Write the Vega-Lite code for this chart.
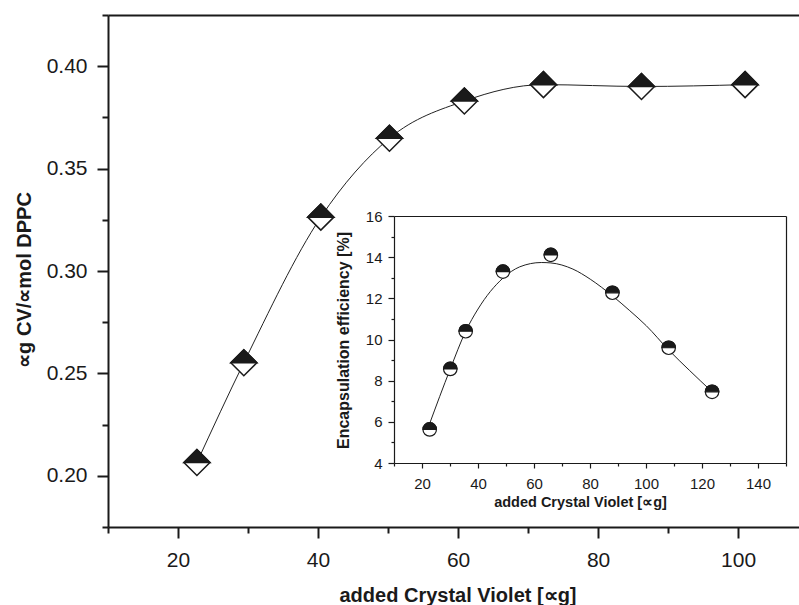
{
  "$schema": "https://vega.github.io/schema/vega-lite/v6.json",
  "width": 691,
  "height": 512,
  "autosize": "none",
  "padding": {"left": 108, "top": 15, "right": 0, "bottom": 78},
  "background": "white",
  "config": {
    "view": {"stroke": null},
    "axis": {
      "grid": false,
      "domainColor": "#1a1a1a",
      "tickColor": "#1a1a1a",
      "labelColor": "#1a1a1a",
      "titleColor": "#1a1a1a",
      "labelFont": "Liberation Sans",
      "titleFont": "Liberation Sans",
      "labelOverlap": false,
      "labelFlush": false
    }
  },
  "datasets": {
    "main": [
      {"cv": 22.7, "r": 0.2065},
      {"cv": 29.4, "r": 0.2552},
      {"cv": 40.4, "r": 0.3263},
      {"cv": 50.2, "r": 0.3648},
      {"cv": 60.9, "r": 0.3830},
      {"cv": 72.2, "r": 0.3910},
      {"cv": 86.2, "r": 0.3901},
      {"cv": 101.0, "r": 0.3910}
    ],
    "inset": [
      {"cv": 22.75, "eff": 5.63},
      {"cv": 30.1, "eff": 8.57},
      {"cv": 35.6, "eff": 10.4},
      {"cv": 48.9, "eff": 13.3},
      {"cv": 66.0, "eff": 14.11},
      {"cv": 88.0, "eff": 12.27},
      {"cv": 108.1, "eff": 9.6},
      {"cv": 123.6, "eff": 7.46}
    ],
    "insetCurve": [
      {"cv": 22.5, "eff": 5.83},
      {"cv": 30.1, "eff": 8.57},
      {"cv": 35.6, "eff": 10.40},
      {"cv": 40.0, "eff": 11.48},
      {"cv": 48.9, "eff": 12.98},
      {"cv": 54.9, "eff": 13.53},
      {"cv": 62.6, "eff": 13.74},
      {"cv": 66.0, "eff": 13.72},
      {"cv": 73.9, "eff": 13.42},
      {"cv": 80.1, "eff": 12.93},
      {"cv": 88.0, "eff": 12.12},
      {"cv": 94.2, "eff": 11.40},
      {"cv": 100.1, "eff": 10.67},
      {"cv": 108.1, "eff": 9.49},
      {"cv": 115.6, "eff": 8.49},
      {"cv": 123.6, "eff": 7.46}
    ]
  },
  "resolve": {
    "scale": {"x": "independent", "y": "independent"},
    "axis": {"x": "independent", "y": "independent"}
  },
  "layer": [
    {
      "data": {"name": "main"},
      "mark": {"type": "line", "interpolate": "monotone", "color": "#222222", "strokeWidth": 1},
      "encoding": {
        "x": {
          "field": "cv", "type": "quantitative",
          "scale": {"domain": [10, 108.7], "nice": false, "zero": false},
          "axis": {
            "orient": "bottom", "values": [20, 40, 60, 80, 100], "format": "d",
            "tickSize": 11, "tickWidth": 2, "domainWidth": 2,
            "labelFontSize": 21, "labelPadding": 11,
            "title": "added Crystal Violet [∝g]", "titleFontSize": 20, "titleFontWeight": "bold",
            "titleX": 349.5, "titleY": 74, "titleBaseline": "alphabetic", "titleAlign": "center"
          }
        },
        "y": {
          "field": "r", "type": "quantitative",
          "scale": {"domain": [0.175, 0.425], "nice": false, "zero": false},
          "axis": {
            "orient": "left", "values": [0.2, 0.25, 0.3, 0.35, 0.4], "format": ".2f",
            "tickSize": 11, "tickWidth": 2, "domainWidth": 2,
            "labelFontSize": 21, "labelPadding": 10,
            "title": "∝g CV/∝mol DPPC", "titleFontSize": 20, "titleFontWeight": "bold",
            "titleX": -77.5, "titleY": 264.5, "titleBaseline": "alphabetic", "titleAlign": "center", "titleAngle": -90
          }
        }
      }
    },
    {
      "data": {"name": "main"},
      "mark": {"type": "point", "opacity": 0},
      "encoding": {
        "x": {
          "field": "cv", "type": "quantitative",
          "scale": {"domain": [10, 108.7], "nice": false, "zero": false},
          "axis": {"orient": "bottom", "values": [10, 30, 50, 70, 90], "labels": false, "domain": false, "tickSize": 6, "tickWidth": 2, "title": null}
        },
        "y": {
          "field": "r", "type": "quantitative",
          "scale": {"domain": [0.175, 0.425], "nice": false, "zero": false},
          "axis": {"orient": "left", "values": [0.175, 0.225, 0.275, 0.325, 0.375, 0.425], "labels": false, "domain": false, "tickSize": 6, "tickWidth": 2, "title": null}
        }
      }
    },
    {
      "data": {"name": "main"},
      "mark": {"type": "point", "opacity": 0},
      "encoding": {
        "x": {
          "field": "cv", "type": "quantitative",
          "scale": {"domain": [10, 108.7], "nice": false, "zero": false},
          "axis": {"orient": "top", "labels": false, "ticks": false, "domain": true, "domainWidth": 2, "title": null}
        },
        "y": {
          "field": "r", "type": "quantitative",
          "scale": {"domain": [0.175, 0.425], "nice": false, "zero": false},
          "axis": null
        }
      }
    },
    {
      "data": {"name": "main"},
      "mark": {"type": "point", "shape": "diamond", "filled": true, "fill": "white", "stroke": "#1a1a1a", "strokeWidth": 1.5, "size": 676, "opacity": 1},
      "encoding": {
        "x": {"field": "cv", "type": "quantitative", "scale": {"domain": [10, 108.7], "nice": false, "zero": false}, "axis": null},
        "y": {"field": "r", "type": "quantitative", "scale": {"domain": [0.175, 0.425], "nice": false, "zero": false}, "axis": null}
      }
    },
    {
      "data": {"name": "main"},
      "mark": {"type": "point", "shape": "M-1,0L0,-1L1,0Z", "filled": true, "fill": "#1a1a1a", "stroke": "#1a1a1a", "strokeWidth": 1.5, "size": 676, "opacity": 1},
      "encoding": {
        "x": {"field": "cv", "type": "quantitative", "scale": {"domain": [10, 108.7], "nice": false, "zero": false}, "axis": null},
        "y": {"field": "r", "type": "quantitative", "scale": {"domain": [0.175, 0.425], "nice": false, "zero": false}, "axis": null}
      }
    },
    {
      "data": {"name": "insetCurve"},
      "mark": {"type": "line", "interpolate": "monotone", "color": "#222222", "strokeWidth": 1},
      "encoding": {
        "x": {
          "field": "cv", "type": "quantitative",
          "scale": {"domain": [10, 150], "range": [286, 678], "nice": false, "zero": false},
          "axis": {
            "orient": "bottom", "offset": -64, "values": [20, 40, 60, 80, 100, 120, 140], "format": "d",
            "tickSize": 5, "tickWidth": 1.2, "domainWidth": 1.2,
            "labelFontSize": 15, "labelPadding": 8,
            "title": "added Crystal Violet [∝g]", "titleFontSize": 14.5, "titleFontWeight": "bold",
            "titleX": 472, "titleY": 43, "titleBaseline": "alphabetic", "titleAlign": "center"
          }
        },
        "y": {
          "field": "eff", "type": "quantitative",
          "scale": {"domain": [4, 16], "range": [448, 201], "nice": false, "zero": false},
          "axis": {
            "orient": "left", "offset": -286, "values": [4, 6, 8, 10, 12, 14, 16], "format": "d",
            "tickSize": 6, "tickWidth": 1.2, "domainWidth": 1.2,
            "labelFontSize": 15, "labelPadding": 6,
            "title": "Encapsulation efficiency [%]", "titleFontSize": 16, "titleFontWeight": "bold",
            "titleX": -46, "titleY": 325, "titleBaseline": "alphabetic", "titleAlign": "center", "titleAngle": -90
          }
        }
      }
    },
    {
      "data": {"name": "inset"},
      "mark": {"type": "point", "opacity": 0},
      "encoding": {
        "x": {
          "field": "cv", "type": "quantitative",
          "scale": {"domain": [10, 150], "range": [286, 678], "nice": false, "zero": false},
          "axis": {"orient": "bottom", "offset": -64, "values": [10, 30, 50, 70, 90, 110, 130, 150], "labels": false, "domain": false, "tickSize": 3, "tickWidth": 1.2, "title": null}
        },
        "y": {
          "field": "eff", "type": "quantitative",
          "scale": {"domain": [4, 16], "range": [448, 201], "nice": false, "zero": false},
          "axis": {"orient": "left", "offset": -286, "values": [5, 7, 9, 11, 13, 15], "labels": false, "domain": false, "tickSize": 3, "tickWidth": 1.2, "title": null}
        }
      }
    },
    {
      "data": {"name": "inset"},
      "mark": {"type": "point", "opacity": 0},
      "encoding": {
        "x": {
          "field": "cv", "type": "quantitative",
          "scale": {"domain": [10, 150], "range": [286, 678], "nice": false, "zero": false},
          "axis": {"orient": "top", "offset": -201, "labels": false, "ticks": false, "domain": true, "domainWidth": 1.2, "title": null}
        },
        "y": {
          "field": "eff", "type": "quantitative",
          "scale": {"domain": [4, 16], "range": [448, 201], "nice": false, "zero": false},
          "axis": {"orient": "right", "offset": -13, "labels": false, "ticks": false, "domain": true, "domainWidth": 1.2, "title": null}
        }
      }
    },
    {
      "data": {"name": "inset"},
      "mark": {"type": "point", "shape": "circle", "filled": true, "fill": "white", "stroke": "#1a1a1a", "strokeWidth": 1.2, "size": 182, "opacity": 1},
      "encoding": {
        "x": {"field": "cv", "type": "quantitative", "scale": {"domain": [10, 150], "range": [286, 678], "nice": false, "zero": false}, "axis": null},
        "y": {"field": "eff", "type": "quantitative", "scale": {"domain": [4, 16], "range": [448, 201], "nice": false, "zero": false}, "axis": null}
      }
    },
    {
      "data": {"name": "inset"},
      "mark": {"type": "point", "shape": "M-1,0C-1,-0.552,-0.552,-1,0,-1C0.552,-1,1,-0.552,1,0Z", "filled": true, "fill": "#1a1a1a", "stroke": "#1a1a1a", "strokeWidth": 1.2, "size": 182, "opacity": 1},
      "encoding": {
        "x": {"field": "cv", "type": "quantitative", "scale": {"domain": [10, 150], "range": [286, 678], "nice": false, "zero": false}, "axis": null},
        "y": {"field": "eff", "type": "quantitative", "scale": {"domain": [4, 16], "range": [448, 201], "nice": false, "zero": false}, "axis": null}
      }
    }
  ]
}
